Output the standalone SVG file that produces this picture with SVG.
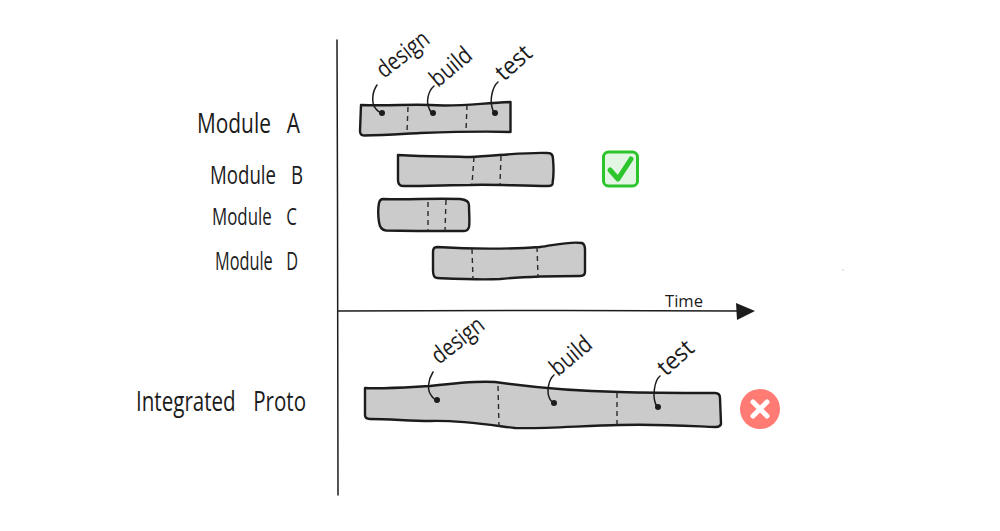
<svg xmlns="http://www.w3.org/2000/svg" width="1000" height="531" viewBox="0 0 1000 531">
<style>
.bar{fill:#cbcbcb;stroke:#1c1c1c;stroke-width:2.4;stroke-linejoin:round}
.div{fill:none;stroke:#2a2a2a;stroke-width:1.4;stroke-dasharray:5 4}
.ln{fill:none;stroke:#1c1c1c;stroke-width:1.5;stroke-linecap:round}
.dot{fill:#1c1c1c}
text{font-family:"Open Sans","Liberation Sans",sans-serif;fill:#1c1c1c;font-weight:400}
.call{font-size:24px}
</style>
<rect width="1000" height="531" fill="#ffffff"/>
<g id="axes">
<path class="ln" d="M337 40 L337.500 200 L338 495"/>
<path class="ln" d="M338 311 L560 310.500 L740 311"/>
<path class="dot" d="M736 303 L755 311 L737 320 Z"/>
<circle cx="843" cy="270" r="0.5" fill="#777"/>
</g>
<g id="label-module-a"><text x="197" y="133" style="font-size:28px;word-spacing:14px" textLength="103" lengthAdjust="spacingAndGlyphs">Module A</text></g>
<g id="label-module-b"><text x="210" y="184" style="font-size:26px;word-spacing:14px" textLength="93" lengthAdjust="spacingAndGlyphs">Module B</text></g>
<g id="label-module-c"><text x="212" y="225" style="font-size:23px;word-spacing:14px" textLength="85" lengthAdjust="spacingAndGlyphs">Module C</text></g>
<g id="label-module-d"><text x="215" y="270" style="font-size:25px;word-spacing:14px" textLength="83" lengthAdjust="spacingAndGlyphs">Module D</text></g>
<g id="label-integrated"><text x="136" y="411" style="font-size:27px;word-spacing:16px" textLength="170" lengthAdjust="spacingAndGlyphs">Integrated Proto</text></g>
<g id="module-a">
<path class="bar" d="M361 105 C390 106 410 104 430 105 C460 107 480 103 510.500 102 L510.500 132 C480 131 450 132 420 133 C400 134 385 135 364 135.500 Q360 135.500 360 131 Z"/>
<path class="div" d="M408 107 L407 132"/>
<path class="div" d="M467 105 L466 131"/>
</g>
<g id="module-b">
<path class="bar" d="M398 155 C430 157 450 156 470 157 C495 156 525 152 548 153 Q553 153 553 159 C554 170 554 175 552.500 184 Q552 186 548 186 C520 186 490 184 470 185 C450 185 430 186 403 186 Q398 186 398 180 Z"/>
<path class="div" d="M474 157 L472 184"/>
<path class="div" d="M501 156 L500 184"/>
</g>
<g id="module-c">
<path class="bar" d="M383 199 C410 200 430 198 460 199 Q469 200 469 205 C469 215 470 222 469 227 Q468 231 464 231 C440 231 410 231 386 230.500 Q380 230 379 222 C378 215 378 208 379 203 Q380 199 383 199 Z"/>
<path class="div" d="M428 202 L428 231"/>
<path class="div" d="M446 200 L445 231"/>
</g>
<g id="module-d">
<path class="bar" d="M437 247 C470 249 510 249 540 247 C555 245 570 241 582 243 Q585 244 585 250 L585 272 Q585 276 580 276 C550 276 520 277 500 279 C480 280 460 279 437 278 Q433 278 433 270 L433 252 Q433 247 437 247 Z"/>
<path class="div" d="M472 249 L473 279"/>
<path class="div" d="M537 247 L538 276"/>
</g>
<g id="integrated-proto">
<path class="bar" d="M365 388 C385 389 410 387 430 386 C455 383 480 381 495 382 C530 387 570 391 620 392 C650 393 680 393 715 393 Q720 393 720 398 L721 424 Q720 427 716 427 C690 426 660 424 620 425 C580 426 540 429 515 428 C490 425 460 420 430 421 C410 421 390 419 370 419 Q365 419 365 415 Z"/>
<path class="div" d="M498 386 L499 427"/>
<path class="div" d="M617 393 L617 426"/>
</g>
<g id="connectors">
<path class="ln" d="M377 85 C372 92 371 104 376 109 Q378 112 382 113"/><circle class="dot" cx="382" cy="113" r="3"/>
<path class="ln" d="M434 86 C428 91 426 102 429 108 Q430 112 433 113"/><circle class="dot" cx="433" cy="113" r="3"/>
<path class="ln" d="M498 82 C492 87 490 100 492 107 Q493 112 495 113"/><circle class="dot" cx="495" cy="113" r="3"/>
<path class="ln" d="M433 372 C428 380 427 390 431 395 Q433 399 437 400"/><circle class="dot" cx="437" cy="400" r="3"/>
<path class="ln" d="M554 375 C548 380 547 392 549 397 Q551 402 554 403"/><circle class="dot" cx="554" cy="403" r="3"/>
<path class="ln" d="M660 376 C654 381 653 396 655 402 Q656 406 658 407"/><circle class="dot" cx="658" cy="407" r="3"/>
</g>
<g id="callouts">
<text class="call" transform="translate(384 79) rotate(-38)" textLength="60" lengthAdjust="spacingAndGlyphs">design</text>
<text class="call" transform="translate(438 88) rotate(-40)" textLength="47" lengthAdjust="spacingAndGlyphs">build</text>
<text class="call" transform="translate(504 82) rotate(-42)" textLength="40" lengthAdjust="spacingAndGlyphs">test</text>
<text class="call" transform="translate(439 365) rotate(-38)" textLength="60" lengthAdjust="spacingAndGlyphs">design</text>
<text class="call" transform="translate(558 377) rotate(-40)" textLength="47" lengthAdjust="spacingAndGlyphs">build</text>
<text class="call" transform="translate(666 377) rotate(-42)" textLength="40" lengthAdjust="spacingAndGlyphs">test</text>
<text x="665" y="307" style="font-size:16px" textLength="38" lengthAdjust="spacingAndGlyphs">Time</text>
</g>
<g id="check-icon">
<rect x="603.500" y="152" width="34" height="34" rx="5" fill="#e3f5e3" stroke="#2cc52c" stroke-width="3"/>
<path d="M610 170 L618 179 L631 159" fill="none" stroke="#2cc52c" stroke-width="5" stroke-linecap="round" stroke-linejoin="round"/>
</g>
<g id="cross-icon">
<circle cx="760" cy="409" r="20" fill="#ff7b73"/>
<path d="M753 402 L767 416 M767 402 L753 416" stroke="#ffffff" stroke-width="5" stroke-linecap="round"/>
</g>
</svg>
